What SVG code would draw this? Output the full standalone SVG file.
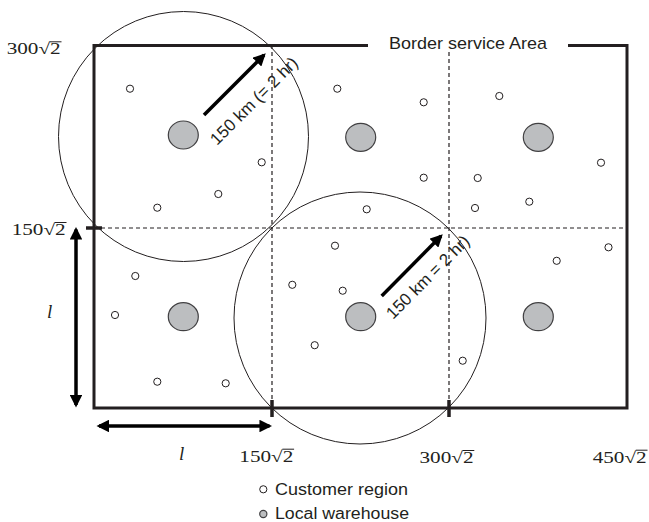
<svg xmlns="http://www.w3.org/2000/svg" width="649" height="522" viewBox="0 0 649 522">
<style>
.frame{fill:none;stroke:#231f20;stroke-width:3}
.dash{fill:none;stroke:#231f20;stroke-width:1.2;stroke-dasharray:4 3}
.ring{fill:none;stroke:#231f20;stroke-width:1}
.cust{fill:#fff;stroke:#231f20;stroke-width:1}
.wh{fill:#bcbec0;stroke:#414042;stroke-width:1.2}
.arr{fill:none;stroke:#000;stroke-width:3.5}
.tick{stroke:#231f20;stroke-width:3.5}
.math{font-family:"Liberation Serif",serif;font-size:16px;fill:#231f20}
.ital{font-family:"Liberation Serif",serif;font-size:19px;font-style:italic;fill:#231f20}
.ovl{stroke:#231f20;stroke-width:1}
.lbl{font-family:"Liberation Sans",Arial,sans-serif;fill:#231f20}
</style>
<defs>
<marker id="ah" viewBox="0 0 10 10" refX="8" refY="5" markerWidth="3.6" markerHeight="3.6" orient="auto-start-reverse" markerUnits="strokeWidth">
<path d="M0,0 L10,5 L0,10 Z" fill="#000"/>
</marker>
</defs>

<g id="frame">
<path class="frame" d="M368,45.5 H94 V408 H627 V45.5 H568"/>
<text class="lbl" x="389" y="48.5" font-size="17" textLength="158" lengthAdjust="spacingAndGlyphs">Border service Area</text>
</g>

<g id="grid">
<line class="dash" x1="272" y1="45" x2="272" y2="408"/>
<line class="dash" x1="449" y1="52" x2="449" y2="408"/>
<line class="dash" x1="94" y1="228" x2="627" y2="228"/>
<line class="tick" x1="86" y1="228" x2="102" y2="228"/>
<line class="tick" x1="272" y1="400" x2="272" y2="417"/>
<line class="tick" x1="449" y1="400" x2="449" y2="417"/>
</g>

<g id="coverage">
<circle class="ring" cx="183.5" cy="136.5" r="125"/>
<circle class="ring" cx="360" cy="318" r="126"/>
</g>

<g id="warehouses">
<ellipse id="w1" class="wh" cx="183.3" cy="135" rx="15" ry="14"/>
<ellipse id="w2" class="wh" cx="360.7" cy="137.3" rx="15" ry="14"/>
<ellipse id="w3" class="wh" cx="538.3" cy="137.3" rx="15" ry="14"/>
<ellipse id="w4" class="wh" cx="183.3" cy="316.7" rx="15" ry="14"/>
<ellipse id="w5" class="wh" cx="360.7" cy="316.7" rx="15" ry="14"/>
<ellipse id="w6" class="wh" cx="538.3" cy="316.7" rx="15" ry="14"/>
</g>

<g id="customers">
<circle class="cust" cx="130" cy="88.7" r="3.6"/>
<circle class="cust" cx="337.3" cy="88.7" r="3.6"/>
<circle class="cust" cx="423.7" cy="102.3" r="3.6"/>
<circle class="cust" cx="499.3" cy="96" r="3.6"/>
<circle class="cust" cx="261.7" cy="162.3" r="3.6"/>
<circle class="cust" cx="218.3" cy="194" r="3.6"/>
<circle class="cust" cx="157.3" cy="207.7" r="3.6"/>
<circle class="cust" cx="423.7" cy="177.7" r="3.6"/>
<circle class="cust" cx="477.7" cy="178" r="3.6"/>
<circle class="cust" cx="601" cy="162.7" r="3.6"/>
<circle class="cust" cx="366.7" cy="209.3" r="3.6"/>
<circle class="cust" cx="475" cy="208" r="3.6"/>
<circle class="cust" cx="529.3" cy="201.7" r="3.6"/>
<circle class="cust" cx="335" cy="245.7" r="3.6"/>
<circle class="cust" cx="608.5" cy="247.3" r="3.6"/>
<circle class="cust" cx="556.7" cy="260.8" r="3.6"/>
<circle class="cust" cx="135.3" cy="276" r="3.6"/>
<circle class="cust" cx="115" cy="315" r="3.6"/>
<circle class="cust" cx="292.3" cy="284.8" r="3.6"/>
<circle class="cust" cx="342.7" cy="290.7" r="3.6"/>
<circle class="cust" cx="314.7" cy="345.2" r="3.6"/>
<circle class="cust" cx="462.7" cy="360.7" r="3.6"/>
<circle class="cust" cx="157.3" cy="381.7" r="3.6"/>
<circle class="cust" cx="225.7" cy="383.3" r="3.6"/>
</g>

<g id="connectors">
<line class="arr" x1="204" y1="115" x2="264" y2="55" marker-end="url(#ah)"/>
<line class="arr" x1="381.7" y1="296" x2="441" y2="236" marker-end="url(#ah)"/>
<line class="arr" x1="76" y1="229.5" x2="76" y2="405" stroke-width="3" marker-start="url(#ah)" marker-end="url(#ah)"/>
<line class="arr" x1="99" y1="426" x2="269.5" y2="426" stroke-width="3" marker-start="url(#ah)" marker-end="url(#ah)"/>
</g>

<g id="radius-labels">
<text class="lbl" font-size="17" transform="translate(217,146) rotate(-45)" textLength="116">150 km (= 2 hr)</text>
<text class="lbl" font-size="17" transform="translate(393,320) rotate(-45)" textLength="110">150 km = 2 hr)</text>
</g>

<g id="axis-labels">
<text class="math" x="6.7" y="54.3" textLength="54" lengthAdjust="spacingAndGlyphs">300√2</text>
<line class="ovl" x1="49.8" y1="41.8" x2="61.5" y2="41.8"/>
<text class="math" x="11.7" y="235" textLength="54" lengthAdjust="spacingAndGlyphs">150√2</text>
<line class="ovl" x1="54.8" y1="222.5" x2="66.5" y2="222.5"/>
<text class="math" x="239.3" y="461.7" textLength="54" lengthAdjust="spacingAndGlyphs">150√2</text>
<line class="ovl" x1="282.4" y1="449.2" x2="294.1" y2="449.2"/>
<text class="math" x="419.5" y="463" textLength="54" lengthAdjust="spacingAndGlyphs">300√2</text>
<line class="ovl" x1="462.6" y1="450.5" x2="474.3" y2="450.5"/>
<text class="math" x="592.7" y="462.7" textLength="54" lengthAdjust="spacingAndGlyphs">450√2</text>
<line class="ovl" x1="635.8" y1="450.2" x2="647.5" y2="450.2"/>
<text class="ital" x="47" y="318">l</text>
<text class="ital" x="179" y="460">l</text>
</g>

<g id="legend">
<circle class="cust" cx="263.3" cy="489.3" r="3.6"/>
<text class="lbl" x="275" y="494.5" font-size="16.5" textLength="133" lengthAdjust="spacingAndGlyphs">Customer region</text>
<circle class="wh" cx="263.3" cy="514" r="3.6"/>
<text class="lbl" x="275" y="518.5" font-size="16" textLength="134" lengthAdjust="spacingAndGlyphs">Local warehouse</text>
</g>
</svg>
